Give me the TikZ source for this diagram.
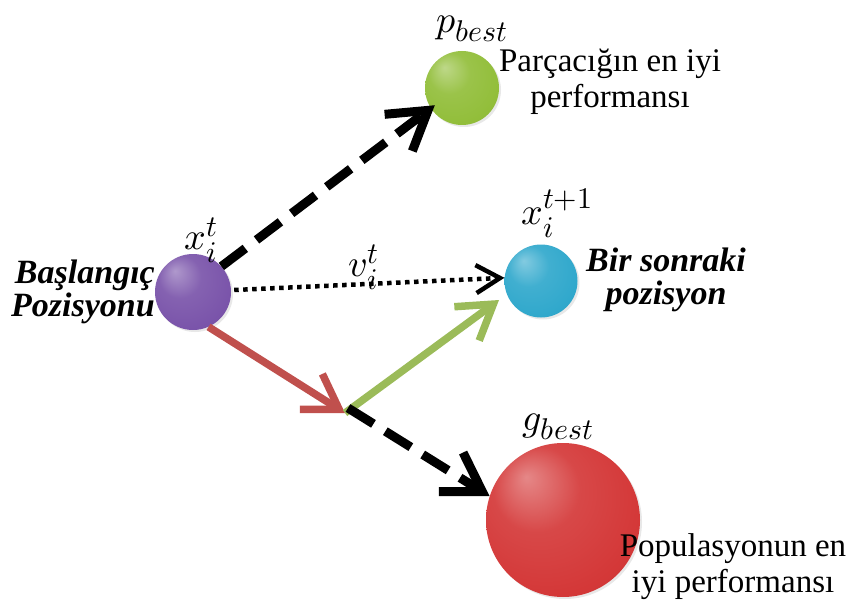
\documentclass[tikz,border=0pt]{standalone}
\usepackage{fontspec}
\setmainfont{Liberation Serif}
\usepackage{unicode-math}
\setmathfont{Latin Modern Math}
\DeclareMathSizes{38}{38}{30}{24}
\usetikzlibrary{arrows.meta,shadows}
\colorlet{ballc}{red}
\pgfdeclareradialshading[ballc]{myball}{\pgfpoint{-12bp}{14bp}}{%
  color(0bp)=(ballc!60!white); color(14bp)=(ballc!92!white); color(30bp)=(ballc); color(44bp)=(ballc!88!black); color(50bp)=(ballc!72!black)}
\definecolor{cpurple}{RGB}{122,84,170}
\definecolor{cgreen}{RGB}{146,190,58}
\definecolor{ccyan}{RGB}{48,168,204}
\definecolor{cred}{RGB}{212,56,56}
\definecolor{arred}{RGB}{192,80,77}
\definecolor{argreen}{RGB}{155,187,89}
\tikzset{
  ballstyle/.style={circle, shading=myball, inner sep=0pt, drop shadow={shadow xshift=2pt, shadow yshift=-2pt, opacity=0.18}},
  plain/.style={font=\fontsize{33}{36}\selectfont, align=center, inner sep=0pt},
  boldit/.style={font=\fontsize{34}{33}\selectfont\bfseries\itshape, inner sep=0pt},
  mathlbl/.style={font=\fontsize{38}{40}\selectfont, inner sep=0pt},
  bigdash/.style={line width=9pt, dash pattern=on 30pt off 14pt, -{Straight Barb[length=37pt,width=46pt,line width=9pt]}},
  dotline/.style={line width=4.5pt, dash pattern=on 4.5pt off 4.5pt, -{Straight Barb[length=24pt,width=28pt,line width=4.5pt]}},
  solidarr/.style={line width=7.5pt, -{Straight Barb[length=33pt,width=42pt,line width=7.5pt]}},
}
\begin{document}
\begin{tikzpicture}[x=1pt,y=-1pt]
\useasboundingbox (0,0) rectangle (851,604);
% balls
\colorlet{ballc}{cpurple}
\node[ballstyle, minimum size=76pt] (start) at (193,292) {};
\colorlet{ballc}{cgreen}
\node[ballstyle, minimum size=74pt] (pb) at (462,88) {};
\colorlet{ballc}{ccyan}
\node[ballstyle, minimum size=73pt] (next) at (541,281) {};
\colorlet{ballc}{cred}
\node[ballstyle, minimum size=154pt] (gb) at (563,520) {};
% labels
\node[mathlbl] (xit) at (201,240) {$x_i^t$};
\node[mathlbl] (pbl) at (472,29) {$p_{best}$};
\node[mathlbl] (vit) at (364,267) {$v_i^t$};
\node[mathlbl] (xit1) at (557,213) {$x_i^{t+1}$};
\node[mathlbl] (gbl) at (558,427) {$g_{best}$};
\node[plain] (pbt) at (610,82) {Parçacığın en iyi\\performansı};
\node[plain] (gbt) at (733,567) {Populasyonun en\\iyi performansı};
\node[boldit, align=right, anchor=east] (st) at (155,292) {Başlangıç\\Pozisyonu};
\node[boldit, align=center] (nt) at (666,280) {Bir sonraki\\pozisyon};
% connectors
\coordinate (mid) at (345,413);
\coordinate (gtip) at (499,300);
\draw[bigdash, shorten >=-5pt] (start.42) -- (pb.213);
\draw[dotline] ([shift={(3pt,2pt)}]start.east) -- (next.175);
\draw[solidarr, arred] (start.-66) -- (mid);
\draw[solidarr, argreen] (mid) -- (gtip);
\draw[bigdash] ([shift={(3pt,5pt)}]mid) -- (gb.162);
\end{tikzpicture}
\end{document}
